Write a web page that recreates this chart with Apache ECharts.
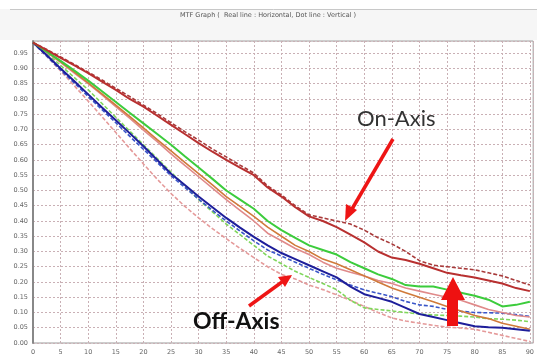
<!DOCTYPE html>
<html><head><meta charset="utf-8">
<script src="https://cdn.jsdelivr.net/npm/echarts@6/dist/echarts.min.js"></script>
<style>html,body{margin:0;padding:0;background:#fff}#c{width:537px;height:358px}</style>
</head><body><div id="c"></div>
<script>
const title = 'MTF Graph (  Real line : Horizontal, Dot line : Vertical )';
const xs = [0,2.5,5,7.5,10,12.5,15,17.5,20,22.5,25,27.5,30,32.5,35,37.5,40,42.5,45,47.5,50,52.5,55,57.5,60,62.5,65,67.5,70,72.5,75,77.5,80,82.5,85,87.5,90];
const redSolid   = [0.985,0.96,0.935,0.91,0.885,0.857,0.83,0.80,0.775,0.745,0.715,0.685,0.655,0.627,0.60,0.575,0.55,0.51,0.48,0.445,0.415,0.40,0.38,0.355,0.33,0.30,0.28,0.272,0.26,0.245,0.23,0.222,0.215,0.205,0.195,0.18,0.17];
const redDash    = [0.985,0.962,0.938,0.913,0.888,0.862,0.835,0.808,0.78,0.752,0.722,0.693,0.665,0.636,0.61,0.583,0.557,0.515,0.485,0.45,0.42,0.41,0.40,0.39,0.37,0.345,0.325,0.30,0.27,0.255,0.25,0.245,0.24,0.23,0.22,0.205,0.19];
const greenSolid = [0.985,0.955,0.925,0.893,0.86,0.825,0.79,0.755,0.72,0.685,0.65,0.612,0.575,0.538,0.50,0.47,0.44,0.40,0.37,0.345,0.32,0.305,0.29,0.265,0.245,0.225,0.21,0.19,0.185,0.185,0.175,0.165,0.155,0.142,0.12,0.125,0.135];
const greenDash  = [0.985,0.95,0.91,0.87,0.83,0.785,0.74,0.695,0.65,0.605,0.56,0.515,0.47,0.43,0.39,0.355,0.32,0.285,0.26,0.235,0.215,0.195,0.175,0.14,0.115,0.11,0.105,0.10,0.095,0.092,0.09,0.088,0.085,0.08,0.078,0.075,0.07];
const orangeSolid= [0.985,0.955,0.922,0.888,0.853,0.817,0.78,0.743,0.705,0.667,0.63,0.592,0.555,0.518,0.48,0.448,0.415,0.38,0.35,0.32,0.30,0.275,0.26,0.24,0.22,0.20,0.18,0.165,0.15,0.135,0.12,0.105,0.09,0.08,0.065,0.055,0.045];
const pinkSolid  = [0.985,0.953,0.92,0.885,0.85,0.813,0.775,0.737,0.698,0.66,0.62,0.582,0.545,0.508,0.47,0.435,0.40,0.36,0.335,0.31,0.29,0.265,0.245,0.232,0.22,0.205,0.195,0.18,0.17,0.16,0.15,0.14,0.125,0.11,0.10,0.09,0.085];
const blueSolid  = [0.985,0.943,0.90,0.858,0.815,0.772,0.73,0.688,0.645,0.60,0.555,0.518,0.48,0.445,0.41,0.378,0.348,0.32,0.295,0.275,0.255,0.235,0.215,0.185,0.16,0.148,0.135,0.115,0.095,0.085,0.075,0.065,0.055,0.052,0.05,0.045,0.04];
const blueDash   = [0.985,0.94,0.895,0.852,0.808,0.765,0.722,0.678,0.635,0.592,0.548,0.51,0.472,0.435,0.40,0.367,0.335,0.305,0.285,0.265,0.245,0.225,0.207,0.19,0.174,0.163,0.152,0.136,0.125,0.12,0.11,0.104,0.10,0.099,0.098,0.093,0.087];
const pinkDash   = [0.985,0.94,0.892,0.843,0.793,0.742,0.69,0.638,0.587,0.537,0.49,0.448,0.41,0.375,0.342,0.31,0.28,0.25,0.225,0.21,0.19,0.175,0.158,0.14,0.12,0.10,0.082,0.072,0.065,0.058,0.052,0.049,0.045,0.035,0.025,0.015,0.005];

function mk(name, data, color, dashed, w) {
  return { name, type:'line', data: xs.map((x,i)=>[x,data[i]]), showSymbol:false, smooth:false,
    lineStyle:{ color, width: w||1.6, type: dashed ? [4,2] : 'solid' }, z: dashed?3:4, animation:false };
}
const chart = echarts.init(document.getElementById('c'), null, {renderer:'canvas'});
chart.setOption({
  animation:false,
  backgroundColor:'#fff',
  grid:{ left:33, right:2, top:41, bottom:15, show:true, borderColor:'#9a9a9a', borderWidth:1 },
  xAxis:{ type:'value', min:0, max:90.6, interval:5,
    axisLine:{show:false}, axisTick:{show:false},
    axisLabel:{ fontSize:6.5, color:'#666', margin:6, showMaxLabel:false, fontFamily:'DejaVu Sans' },
    splitLine:{ show:true, lineStyle:{ color:'#c9b0b5', type:[2,2], width:1 } } },
  yAxis:{ type:'value', min:0, max:0.99, interval:0.05,
    axisLine:{show:true, lineStyle:{color:'#888', width:2}}, axisTick:{show:false},
    axisLabel:{ fontSize:6.5, color:'#666', margin:5, showMaxLabel:false, fontFamily:'DejaVu Sans',
      formatter: v => v.toFixed(2) },
    splitLine:{ show:true, lineStyle:{ color:'#c9b0b5', type:[2,2], width:1 } } },
  series:[
    mk('pinkDash', pinkDash, '#e59a9a', true),
    mk('greenDash', greenDash, '#7fd65a', true),
    mk('blueDash', blueDash, '#3a56c8', true),
    mk('redDash', redDash, '#a83a3a', true),
    mk('pinkSolid', pinkSolid, '#e08a8a', false),
    mk('orangeSolid', orangeSolid, '#d07a3a', false),
    mk('blueSolid', blueSolid, '#1e1e9a', false, 2),
    mk('greenSolid', greenSolid, '#3ccc3c', false, 2),
    mk('redSolid', redSolid, '#b83030', false, 2)
  ],
  graphic:[
    { type:'rect', shape:{x:0,y:0,width:537,height:40}, style:{fill:'#f6f6f6'}, z:-1, silent:true },
    { type:'rect', shape:{x:0,y:0,width:537,height:9}, style:{fill:'#ffffff'}, z:-1, silent:true },
    { type:'line', shape:{x1:10,y1:9.5,x2:537,y2:9.5}, style:{stroke:'#c8c8c8', lineWidth:1}, z:0 },
    { type:'text', x:268, y:15, style:{ text:title, fill:'#555', font:'6.5px "DejaVu Sans"', textAlign:'center', textVerticalAlign:'middle' }, z:10 },
    { type:'text', x:357, y:119, style:{ text:'On-Axis', fill:'#333', font:'22px Lato', textAlign:'left', textVerticalAlign:'middle' }, z:20 },
    { type:'polyline', shape:{points:[[393,139],[352,209]]}, style:{stroke:'#ee1515', lineWidth:3.5}, z:20 },
    { type:'polygon', shape:{points:[[345,221],[346,204],[357,210]]}, style:{fill:'#ee1515'}, z:20 },
    { type:'text', x:193, y:322, style:{ text:'Off-Axis', fill:'#111', font:'bold 23px Lato', textAlign:'left', textVerticalAlign:'middle' }, z:20 },
    { type:'polyline', shape:{points:[[249,306],[282,282]]}, style:{stroke:'#ee1515', lineWidth:3.5}, z:20 },
    { type:'polygon', shape:{points:[[292,275],[278,277],[285,287]]}, style:{fill:'#ee1515'}, z:20 },
    { type:'polygon', shape:{points:[[453,277],[441,300],[447,300],[447,326],[458,326],[458,300],[465,300]]}, style:{fill:'#ee1111'}, z:20 }
  ]
});
</script></body></html>
